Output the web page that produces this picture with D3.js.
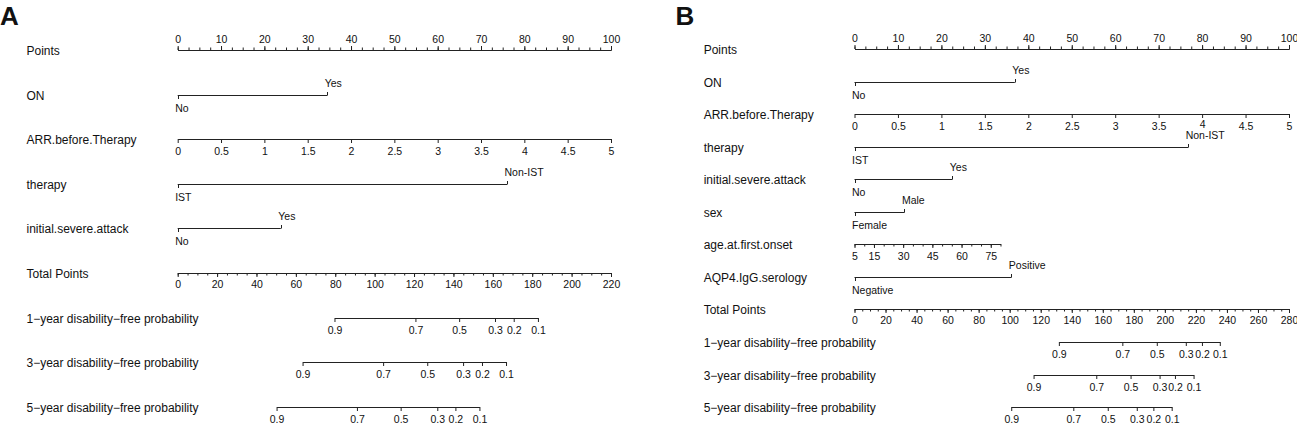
<!DOCTYPE html>
<html>
<head>
<meta charset="utf-8">
<script src="https://cdn.jsdelivr.net/npm/d3@7/dist/d3.min.js"></script>
<style>
  body { margin: 0; background: #fff; }
  svg text { font-family: "Liberation Sans", Arial, Helvetica, sans-serif; fill: #111; }
  .rowlab { font-size: 12px; }
  .tick text, .cat { font-size: 10.5px; }
  .tag { font-size: 26px; font-weight: bold; }
</style>
</head>
<body>
<svg id="chart" width="1297" height="424"></svg>
<script>
// ---------- shared ----------
var pointTicks = [0, 10, 20, 30, 40, 50, 60, 70, 80, 90, 100];
var pointMinor = d3.range(0, 100.01, 2.5);
var arrTicks = [0, 0.5, 1, 1.5, 2, 2.5, 3, 3.5, 4, 4.5, 5];
var probTicks = [0.9, 0.7, 0.5, 0.3, 0.2, 0.1];
var onLevels = ["No", "Yes"];
var therapyLevels = ["IST", "Non-IST"];
var severeLevels = ["No", "Yes"];
var sexLevels = ["Female", "Male"];
var aqpLevels = ["Negative", "Positive"];

// ---------- panel A ----------
var rowNamesA = ["Points", "ON", "ARR.before.Therapy", "therapy", "initial.severe.attack", "Total Points",
  "1\u2212year disability\u2212free probability", "3\u2212year disability\u2212free probability",
  "5\u2212year disability\u2212free probability"];
var onPointsA = [0, 34.5];
var arrPointsA = [0, 100];      // points at ARR 0 and 5
var therapyPointsA = [0, 76.0];
var severePointsA = [0, 23.8];
var totalTicksA = [0, 20, 40, 60, 80, 100, 120, 140, 160, 180, 200, 220];
var totalMinorA = d3.range(0, 220.01, 5);
var prob1yA = [79.6, 120.7, 142.9, 161.1, 170.6, 182.9];
var prob3yA = [63.4, 104.3, 126.7, 144.9, 154.5, 166.7];
var prob5yA = [50.2, 91.0, 113.2, 131.8, 141.0, 153.2];

// ---------- panel B ----------
var rowNamesB = ["Points", "ON", "ARR.before.Therapy", "therapy", "initial.severe.attack", "sex",
  "age.at.first.onset", "AQP4.IgG.serology", "Total Points",
  "1\u2212year disability\u2212free probability", "3\u2212year disability\u2212free probability",
  "5\u2212year disability\u2212free probability"];
var onPointsB = [0, 36.9];
var arrPointsB = [0, 100];
var therapyPointsB = [0, 76.8];
var severePointsB = [0, 22.5];
var sexPointsB = [0, 11.5];
var ageRange = [5, 80];
var agePointsB = [0, 33.6];     // points at age 5 and 80
var ageTicks = [5, 10, 15, 20, 25, 30, 35, 40, 45, 50, 55, 60, 65, 70, 75, 80];
var ageLabels = [5, 15, 30, 45, 60, 75];
var aqpPointsB = [0, 36.1];
var totalTicksB = [0, 20, 40, 60, 80, 100, 120, 140, 160, 180, 200, 220, 240, 260, 280];
var totalMinorB = d3.range(0, 280.01, 5);
var prob1yB = [131.7, 172.6, 194.8, 213.5, 223.9, 235.4];
var prob3yB = [115.4, 155.8, 177.9, 196.6, 206.5, 218.5];
var prob5yB = [101.0, 141.0, 163.2, 181.9, 192.6, 204.4];

var svg = d3.select("#chart");

//numeric axis, labelled ticks plus optional minor ticks
function numAxis(g, y, scale, side, labels, minor, pad) {
  var make = side == "top" ? d3.axisTop : d3.axisBottom;
  if (minor) {
    g.append("g").attr("transform", "translate(0," + y + ")")
      .call(make(scale).tickValues(minor).tickSize(2.5).tickSizeOuter(0).tickFormat(""));
  }
  var a = g.append("g").attr("transform", "translate(0," + y + ")")
    .call(make(scale).tickValues(labels).tickSize(4).tickSizeOuter(0).tickPadding(pad).tickFormat(d3.format("")));
  a.attr("font-family", null).attr("font-size", null);
  return a;
}

//two-level factor: first level below, second above
function catAxis(g, y, xs, levels) {
  g.append("line").attr("x1", xs[0]).attr("x2", xs[xs.length - 1])
    .attr("y1", y + 0.5).attr("y2", y + 0.5).attr("stroke", "currentColor");
  xs.forEach(function (x, i) {
    var up = i % 2 == 1;
    var xx = Math.round(x) + 0.5;
    g.append("line").attr("x1", xx).attr("x2", xx).attr("y1", y + 0.5).attr("y2", y + 0.5 + (up ? -3.5 : 3.5))
      .attr("stroke", "currentColor");
    g.append("text").attr("class", "cat").attr("x", x - 2.5).attr("y", up ? y - 8 : y + 17).text(levels[i]);
  });
}

function drawPanel(p) {
  var g = svg.append("g").attr("color", "#222");
  var px = d3.scaleLinear().domain([0, 100]).range([p.x0, p.x1]);
  var tot = d3.scaleLinear().domain([0, p.totalMax]).range([p.x0, p.x1]);
  g.append("text").attr("class", "tag").attr("x", p.tagX).attr("y", 25).text(p.tag);

  p.rows.forEach(function (r, i) {
    var y = Math.round(p.y0 + i * p.dy);
    g.append("text").attr("class", "rowlab").attr("x", p.labX).attr("y", y + 4.5).text(r.name);
    if (r.type == "points") {
      numAxis(g, y, px, "top", pointTicks, pointMinor, 3);
    } else if (r.type == "cat") {
      catAxis(g, y, r.pts.map(px), r.levels);
    } else if (r.type == "num") {
      var s = d3.scaleLinear().domain(r.range).range(r.pts.map(px));
      var a = numAxis(g, y, s, "bottom", r.labels, r.minor, 5);
      if (r.raise != null) {
        a.selectAll(".tick text").filter(function (d) { return d == r.raise; }).attr("dy", "0.45em");
      }
    } else if (r.type == "total") {
      numAxis(g, y, tot, "bottom", r.labels, r.minor, 4);
    } else if (r.type == "prob") {
      var ps = d3.scaleLinear().domain(probTicks).range(r.pts.map(tot));
      numAxis(g, y, ps, "bottom", probTicks, null, 5);
    }
  });
}

drawPanel({
  tag: "A", tagX: 0, labX: 26.5, x0: 177.7, x1: 611, y0: 50, dy: 44.6, totalMax: 220,
  rows: [
    { name: rowNamesA[0], type: "points" },
    { name: rowNamesA[1], type: "cat", levels: onLevels, pts: onPointsA },
    { name: rowNamesA[2], type: "num", range: [0, 5], pts: arrPointsA, labels: arrTicks },
    { name: rowNamesA[3], type: "cat", levels: therapyLevels, pts: therapyPointsA },
    { name: rowNamesA[4], type: "cat", levels: severeLevels, pts: severePointsA },
    { name: rowNamesA[5], type: "total", labels: totalTicksA, minor: totalMinorA },
    { name: rowNamesA[6], type: "prob", pts: prob1yA },
    { name: rowNamesA[7], type: "prob", pts: prob3yA },
    { name: rowNamesA[8], type: "prob", pts: prob5yA }
  ]
});

drawPanel({
  tag: "B", tagX: 675.5, labX: 703.7, x0: 854.5, x1: 1289, y0: 49, dy: 32.55, totalMax: 280,
  rows: [
    { name: rowNamesB[0], type: "points" },
    { name: rowNamesB[1], type: "cat", levels: onLevels, pts: onPointsB },
    { name: rowNamesB[2], type: "num", range: [0, 5], pts: arrPointsB, labels: arrTicks, raise: 4 },
    { name: rowNamesB[3], type: "cat", levels: therapyLevels, pts: therapyPointsB },
    { name: rowNamesB[4], type: "cat", levels: severeLevels, pts: severePointsB },
    { name: rowNamesB[5], type: "cat", levels: sexLevels, pts: sexPointsB },
    { name: rowNamesB[6], type: "num", range: ageRange, pts: agePointsB, labels: ageLabels, minor: ageTicks },
    { name: rowNamesB[7], type: "cat", levels: aqpLevels, pts: aqpPointsB },
    { name: rowNamesB[8], type: "total", labels: totalTicksB, minor: totalMinorB },
    { name: rowNamesB[9], type: "prob", pts: prob1yB },
    { name: rowNamesB[10], type: "prob", pts: prob3yB },
    { name: rowNamesB[11], type: "prob", pts: prob5yB }
  ]
});
</script>
</body>
</html>
